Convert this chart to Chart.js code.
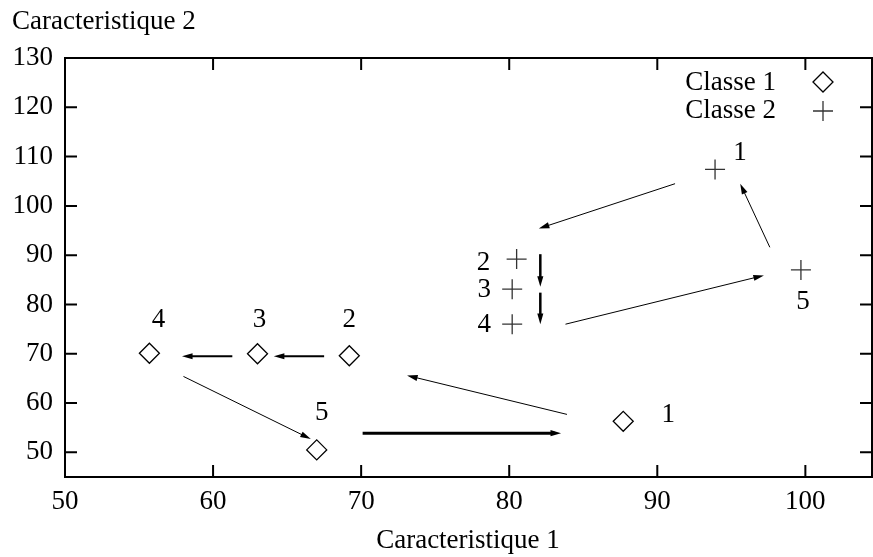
<!DOCTYPE html>
<html>
<head>
<meta charset="utf-8">
<script src="https://cdn.jsdelivr.net/npm/chart.js@4/dist/chart.umd.min.js"></script>
<style>
  html, body { margin: 0; padding: 0; background: #fff; }
  #wrap { width: 873px; height: 557px; }
</style>
</head>
<body>
<div id="wrap"><canvas id="grafica"></canvas></div>
<script>
// valores
const nombres = ['1', '2', '3', '4', '5'];
const clase1X = [87.7, 69.2, 63.0, 55.7, 67.0];
const clase1Y = [56.3, 69.6, 70.0, 70.1, 50.5];
const clase2X = [93.9, 80.5, 80.2, 80.2, 99.7];
const clase2Y = [107.4, 89.2, 83.1, 76.0, 87.0];

const ticksX = [50, 60, 70, 80, 90, 100];
const ticksY = [50, 60, 70, 80, 90, 100, 110, 120, 130];

// flechas (coordenadas de datos)
const flechaX0 = [91.2, 82.1, 82.1, 83.8, 97.6, 83.9, 67.5, 61.3, 58.0, 70.1];
const flechaY0 = [104.5, 90.2, 82.4, 76.0, 91.6, 57.7, 69.5, 69.5, 65.4, 53.9];
const flechaX1 = [82.0, 82.1, 82.1, 97.2, 95.6, 73.1, 64.1, 57.9, 66.6, 83.5];
const flechaY1 = [95.4, 83.6, 76.0, 85.9, 104.5, 65.6, 69.5, 69.5, 52.7, 53.9];
const flechaGrosor = [1, 2.5, 2.5, 1, 1, 1, 2, 2, 1, 3];

// desplazamiento de las etiquetas (px)
const desp1 = [[45, -6], [0, -36], [2, -34], [9, -33], [5, -37]];
const desp2 = [[25, -16], [-33, 4], [-28, 1], [-28, 1], [2, 32]];

const fuente = '"Liberation Serif", "DejaVu Serif", serif';
const tamFuente = 27;

function puntos(xs, ys) {
    return xs.map((x, i) => ({ x: x, y: ys[i] }));
}

function dibujarFlecha(ctx, x0, y0, x1, y1, grosor) {
    const ang = Math.atan2(y1 - y0, x1 - x0);
    const largo = 11;
    const abre = 0.28;
    ctx.save();
    ctx.strokeStyle = '#000';
    ctx.fillStyle = '#000';
    ctx.lineWidth = grosor;
    ctx.beginPath();
    ctx.moveTo(x0, y0);
    ctx.lineTo(x1 - Math.cos(ang) * 6, y1 - Math.sin(ang) * 6);
    ctx.stroke();
    ctx.beginPath();
    ctx.moveTo(x1, y1);
    ctx.lineTo(x1 - largo * Math.cos(ang - abre), y1 - largo * Math.sin(ang - abre));
    ctx.lineTo(x1 - largo * Math.cos(ang + abre), y1 - largo * Math.sin(ang + abre));
    ctx.closePath();
    ctx.fill();
    ctx.restore();
}

const extras = {
    id: 'extras',
    afterDraw(chart) {
        const ctx = chart.ctx;
        const a = chart.chartArea;
        const sx = chart.scales.x;
        const sy = chart.scales.y;

        // marco y marcas hacia dentro
        ctx.save();
        ctx.strokeStyle = '#000';
        ctx.lineWidth = 2;
        ctx.strokeRect(a.left, a.top, a.right - a.left, a.bottom - a.top);
        ctx.beginPath();
        ticksX.forEach((v) => {
            const px = sx.getPixelForValue(v);
            ctx.moveTo(px, a.bottom); ctx.lineTo(px, a.bottom - 12);
            ctx.moveTo(px, a.top); ctx.lineTo(px, a.top + 12);
        });
        ticksY.forEach((v) => {
            const py = sy.getPixelForValue(v);
            ctx.moveTo(a.left, py); ctx.lineTo(a.left + 12, py);
            ctx.moveTo(a.right, py); ctx.lineTo(a.right - 12, py);
        });
        ctx.stroke();
        ctx.restore();

        // flechas
        flechaX0.forEach((x0, i) => {
            dibujarFlecha(ctx,
                sx.getPixelForValue(x0), sy.getPixelForValue(flechaY0[i]),
                sx.getPixelForValue(flechaX1[i]), sy.getPixelForValue(flechaY1[i]),
                flechaGrosor[i]);
        });

        // etiquetas de los puntos
        ctx.save();
        ctx.fillStyle = '#000';
        ctx.font = tamFuente + 'px ' + fuente;
        ctx.textAlign = 'center';
        ctx.textBaseline = 'middle';
        nombres.forEach((n, i) => {
            ctx.fillText(n, sx.getPixelForValue(clase1X[i]) + desp1[i][0], sy.getPixelForValue(clase1Y[i]) + desp1[i][1]);
            ctx.fillText(n, sx.getPixelForValue(clase2X[i]) + desp2[i][0], sy.getPixelForValue(clase2Y[i]) + desp2[i][1]);
        });

        // titulos de los ejes
        ctx.textAlign = 'left';
        ctx.fillText('Caracteristique 2', 12, 22);
        ctx.textAlign = 'center';
        ctx.fillText('Caracteristique 1', 468, 541);

        // leyenda
        ctx.textAlign = 'right';
        ctx.fillText('Classe 1', 776, 83);
        ctx.fillText('Classe 2', 776, 111);

        ctx.strokeStyle = '#000';
        ctx.lineWidth = 1.3;
        ctx.beginPath();
        ctx.moveTo(813, 82); ctx.lineTo(823, 72); ctx.lineTo(833, 82); ctx.lineTo(823, 92);
        ctx.closePath();
        ctx.stroke();
        ctx.strokeStyle = '#333';
        ctx.beginPath();
        ctx.moveTo(813, 111); ctx.lineTo(833, 111);
        ctx.moveTo(823, 101); ctx.lineTo(823, 121);
        ctx.stroke();
        ctx.restore();
    }
};

const ctx = document.getElementById('grafica');
const myChart = new Chart(ctx, {
    type: 'scatter',
    data: {
        datasets: [{
            label: 'Classe 1',
            data: puntos(clase1X, clase1Y),
            pointStyle: 'rectRot',
            pointRadius: 10,
            pointHoverRadius: 10,
            borderColor: '#000',
            backgroundColor: 'rgba(255,255,255,0)',
            pointBorderWidth: 1.3
        }, {
            label: 'Classe 2',
            data: puntos(clase2X, clase2Y),
            pointStyle: 'cross',
            pointRadius: 10,
            pointHoverRadius: 10,
            borderColor: '#333',
            backgroundColor: '#333',
            pointBorderWidth: 1.3
        }]
    },
    options: {
        responsive: true,
        maintainAspectRatio: false,
        animation: false,
        events: [],
        layout: { autoPadding: false, padding: { top: 58, right: 1, left: 0, bottom: 0 } },
        plugins: {
            legend: { display: false },
            tooltip: { enabled: false }
        },
        scales: {
            x: {
                type: 'linear',
                min: 50,
                max: 104.5,
                grid: { display: false, drawTicks: false },
                border: { display: false },
                afterFit: (s) => { s.height = 80; s.paddingLeft = 0; s.paddingRight = 0; },
                afterBuildTicks: (s) => { s.ticks = ticksX.map((v) => ({ value: v })); },
                ticks: {
                    color: '#000',
                    padding: 9,
                    maxRotation: 0,
                    font: { family: fuente, size: tamFuente }
                }
            },
            y: {
                type: 'linear',
                min: 45,
                max: 130,
                grid: { display: false, drawTicks: false },
                border: { display: false },
                afterFit: (s) => { s.width = 65; s.paddingTop = 0; s.paddingBottom = 0; },
                afterBuildTicks: (s) => { s.ticks = ticksY.map((v) => ({ value: v })); },
                ticks: {
                    color: '#000',
                    padding: 12,
                    font: { family: fuente, size: tamFuente }
                }
            }
        }
    },
    plugins: [extras]
});
</script>
</body>
</html>
